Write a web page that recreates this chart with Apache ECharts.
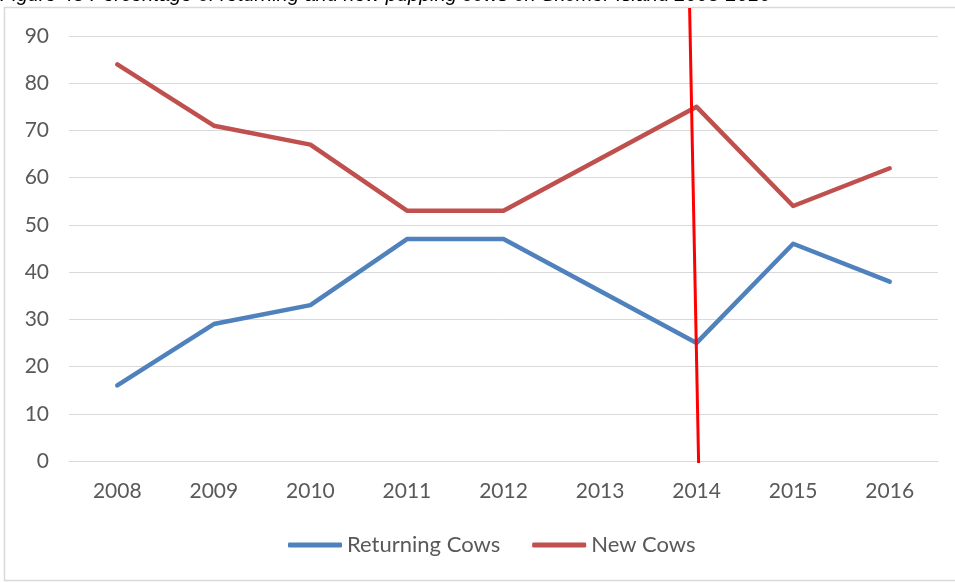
<!DOCTYPE html>
<html>
<head>
<meta charset="utf-8">
<script src="https://cdn.jsdelivr.net/npm/echarts@6/dist/echarts.min.js"></script>
<style>
  html, body { margin: 0; padding: 0; background: #fff; }
  #chart { width: 955px; height: 583px; }
</style>
</head>
<body>
<div id="chart"></div>
<script>
const years = ['2008', '2009', '2010', '2011', '2012', '2013', '2014', '2015', '2016']
const returningCows = [16, 29, 33, 47, 47, 36, 25, 46, 38]
const newCows = [84, 71, 67, 53, 53, 64, 75, 54, 62]
const titleText = 'Figure 48 Percentage of returning and new pupping cows on Skomer Island 2008-2016'

const chart = echarts.init(document.getElementById('chart'))

const labelFont = { color: '#595959', fontFamily: 'Lato', fontSize: 21 }

chart.setOption({
  animation: false,
  grid: { left: 69, right: 17, top: 36, bottom: 122 },
  legend: {
    bottom: 22,
    left: 283,
    icon: 'roundRect',
    itemWidth: 54,
    itemHeight: 5,
    itemGap: 32,
    textStyle: { ...labelFont, fontSize: 22 },
    data: ['Returning Cows', 'New Cows']
  },
  xAxis: {
    type: 'category',
    data: years,
    boundaryGap: true,
    axisLine: { lineStyle: { color: '#d9d9d9', width: 1 } },
    axisTick: { show: false },
    axisLabel: { ...labelFont, margin: 20 }
  },
  yAxis: {
    type: 'value',
    min: 0,
    max: 90,
    interval: 10,
    axisLine: { show: false },
    axisTick: { show: false },
    axisLabel: { ...labelFont, margin: 20 },
    splitLine: { lineStyle: { color: '#d9d9d9', width: 1 } }
  },
  series: [
    {
      name: 'Returning Cows',
      type: 'line',
      data: returningCows,
      symbol: 'none',
      lineStyle: { color: '#4f81bd', width: 4.5, cap: 'round', join: 'round' },
      itemStyle: { color: '#4f81bd' }
    },
    {
      name: 'New Cows',
      type: 'line',
      data: newCows,
      symbol: 'none',
      lineStyle: { color: '#c0504d', width: 4.5, cap: 'round', join: 'round' },
      itemStyle: { color: '#c0504d' }
    }
  ]
})

// frame, cut-off caption and the hand drawn red marker at 2014
const p = chart.convertToPixel({ xAxisIndex: 0, yAxisIndex: 0 }, ['2014', 0])
chart.setOption({
  graphic: [
    {
      type: 'rect',
      shape: { x: 4.5, y: 7.5, width: 960, height: 573 },
      style: { fill: 'none', stroke: '#d9d9d9', lineWidth: 1.5 },
      silent: true
    },
    {
      type: 'text',
      x: 0,
      y: 5,
      style: {
        text: titleText,
        font: 'italic 20px "Liberation Sans"',
        fill: '#000',
        textVerticalAlign: 'bottom'
      },
      silent: true
    },
    {
      type: 'line',
      shape: { x1: p[0] - 7, y1: 8, x2: p[0] + 2, y2: p[1] + 2 },
      style: { stroke: '#ff0000', lineWidth: 3 },
      silent: true,
      z: 100
    }
  ]
})
</script>
</body>
</html>
